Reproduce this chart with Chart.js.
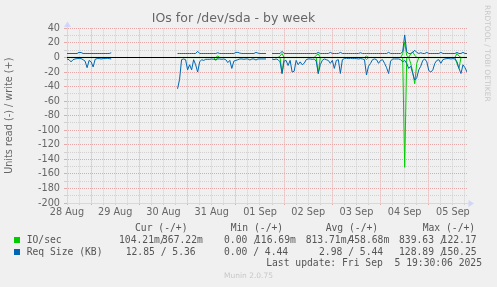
<!DOCTYPE html>
<html>
<head>
<meta charset="utf-8">
<script src="https://cdn.jsdelivr.net/npm/chart.js@4/dist/chart.umd.min.js"></script>
<style>
html,body{margin:0;padding:0;background:#F0F0F0;}
#wrap{position:relative;width:497px;height:287px;overflow:hidden;background:#F0F0F0;}
#c{position:absolute;left:0;top:0;}
.t{position:absolute;font-family:"DejaVu Sans Mono",monospace;font-size:9.7px;line-height:12px;color:#555;white-space:pre;}
.sq{position:absolute;width:6px;height:6px;}
#rrd{position:absolute;left:483px;top:5px;writing-mode:vertical-rl;font-family:"DejaVu Sans",sans-serif;font-size:7.5px;color:#C8C8C8;white-space:nowrap;}
#munin{position:absolute;left:0;width:497px;top:270px;text-align:center;font-family:"DejaVu Sans",sans-serif;font-size:7.5px;line-height:12px;color:#C8C8C8;}
</style>
</head>
<body>
<div id="wrap">
<canvas id="c" width="497" height="287"></canvas>
<div id="rrd">RRDTOOL / TOBI OETIKER</div>
<div class="t" style="left:135px;top:221.7px">Cur (-/+)</div>
<div class="t" style="left:230.7px;top:221.7px">Min (-/+)</div>
<div class="t" style="left:325.7px;top:221.7px">Avg (-/+)</div>
<div class="t" style="left:422.7px;top:221.7px">Max (-/+)</div>
<div class="sq" style="left:14px;top:237.3px;background:#00CC00"></div>
<div class="t" style="left:26.7px;top:234px">IO/sec</div>
<div class="t" style="left:119px;top:234px">104.21m/</div>
<div class="t" style="left:162px;top:234px">367.22m</div>
<div class="t" style="left:224px;top:234px">0.00 /</div>
<div class="t" style="left:255px;top:234px">116.69m</div>
<div class="t" style="left:305.7px;top:234px">813.71m/</div>
<div class="t" style="left:348.4px;top:234px">458.68m</div>
<div class="t" style="left:399px;top:234px">839.63 /</div>
<div class="t" style="left:441.6px;top:234px">122.17</div>
<div class="sq" style="left:14px;top:249.3px;background:#0066B3"></div>
<div class="t" style="left:26.7px;top:245.7px">Req Size (KB)</div>
<div class="t" style="left:125.7px;top:245.7px">12.85 / 5.36</div>
<div class="t" style="left:224px;top:245.7px">0.00 / 4.44</div>
<div class="t" style="left:319px;top:245.7px">2.98 / 5.44</div>
<div class="t" style="left:399px;top:245.7px">128.89 /</div>
<div class="t" style="left:441.6px;top:245.7px">150.25</div>
<div class="t" style="right:15px;top:257.3px">Last update: Fri Sep  5 19:30:06 2025</div>
<div id="munin">Munin 2.0.75</div>
</div>
<script>
// ---- time axis: hours after 28 Aug 00:00; one sample per hour starting 28 Aug 12:00
const X_START_HOUR = 12;
const SAMPLE_STEP_H = 1;
const X_MIN = 12, X_MAX = 211;
const dayLabels = ['28 Aug','29 Aug','30 Aug','31 Aug','01 Sep','02 Sep','03 Sep','04 Sep','05 Sep']; // at noon
const Y_MIN = -200, Y_MAX = 40;
const yLabelStep = 20;

// ---- IO/sec, read (plotted negative)
const ioRead = [
 -0.1,-0.1,-0.1,-0.1,-0.1,-0.1,-0.1,-0.1,-0.1,-0.1,
 -0.1,-0.1,-0.1,-0.1,-0.1,-0.1,-0.1,-0.1,-0.1,-0.1,
 -0.1,-0.1,-0.1,null,null,null,null,null,null,null,
 null,null,null,null,null,null,null,null,null,null,
 null,null,null,null,null,null,null,null,null,null,
 null,null,null,null,null,-0.1,-0.1,-0.1,-0.1,-0.1,
 -0.1,-0.1,-0.1,-0.1,-0.1,-0.1,-0.1,-0.1,-0.1,-0.1,
 -0.1,-0.1,-0.1,-0.1,-4,-0.1,-0.1,-0.1,-0.1,-0.1,
 -0.1,-0.1,-0.1,-0.1,-0.1,-0.1,-0.1,-0.1,-0.1,-0.1,
 -0.1,-0.1,-0.1,-0.1,-0.1,-0.1,-0.1,-0.1,-0.1,-0.1,
 null,null,-0.1,-0.1,-0.1,-0.1,-0.1,-22,-0.1,-0.1,
 -0.1,-0.1,-0.1,-0.1,-0.1,-0.1,-0.1,-0.1,-0.1,-0.1,
 -0.1,-0.1,-0.1,-0.1,-0.1,-22,-0.1,-0.1,-0.1,-0.1,
 -0.1,-0.1,-0.1,-0.1,-0.1,-0.1,-0.1,-0.1,-0.1,-0.1,
 -0.1,-0.1,-0.1,-0.1,-0.1,-0.1,-0.1,-0.1,-0.1,-3,
 -0.1,-0.1,-0.1,-0.1,-0.1,-0.1,-0.1,-0.1,-0.1,-0.1,
 -0.1,-0.1,-0.1,-0.1,-0.1,-0.1,-0.1,-0.1,-151,-0.1,
 -0.1,-8,-20,-36,-8,-0.1,-0.1,-0.1,-0.1,-0.1,
 -0.1,-0.1,-0.1,-0.1,-0.1,-0.1,-0.1,-0.1,-0.1,-0.1,
 -0.1,-0.1,-0.1,-0.1,-8,-15,-0.1,-0.1,-0.1,-0.1
];
// ---- IO/sec, write (plotted positive)
const ioWrite = [
 0.1,0.1,0.1,0.1,0.1,0.1,0.1,0.1,0.1,0.1,
 0.1,0.1,0.1,0.1,0.1,0.1,0.1,0.1,0.1,0.1,
 0.1,0.1,0.1,null,null,null,null,null,null,null,
 null,null,null,null,null,null,null,null,null,null,
 null,null,null,null,null,null,null,null,null,null,
 null,null,null,null,null,0.1,0.1,0.1,0.1,0.1,
 0.1,0.1,0.1,0.1,0.1,0.1,0.1,0.1,0.1,0.1,
 0.1,0.1,0.1,0.1,0.1,2,0.1,0.1,0.1,0.1,
 0.1,0.1,0.1,0.1,0.1,0.1,0.1,0.1,0.1,0.1,
 0.1,0.1,0.1,0.1,0.1,0.1,0.1,0.1,0.1,0.1,
 null,null,0.1,0.1,0.1,0.1,2,5.5,0.1,0.1,
 0.1,0.1,0.1,0.1,0.1,0.1,0.1,0.1,0.1,0.1,
 0.1,0.1,0.1,0.1,3,5,0.1,0.1,0.1,0.1,
 0.1,0.1,0.1,0.1,0.1,0.1,0.1,0.1,0.1,0.1,
 0.1,0.1,0.1,0.1,0.1,0.1,0.1,0.1,0.1,2,
 0.1,0.1,0.1,0.1,0.1,0.1,0.1,0.1,0.1,0.1,
 0.1,0.1,0.1,0.1,0.1,0.1,0.1,5,21,3,
 0.1,5,7.7,3,0.1,0.1,0.1,0.1,0.1,0.1,
 0.1,0.1,0.1,0.1,0.1,0.1,0.1,0.1,0.1,0.1,
 0.1,0.1,0.1,0.1,5.5,2,0.1,0.1,0.1,0.1
];
// ---- Req Size (KB), read (plotted negative)
const reqRead = [
 -2,-3,-6,-3,-2,-1.5,-1.5,-1.5,-3,-5,
 -14,-4,-6,-13,-2.5,-1.5,-1.5,-2,-1.5,-1.5,
 -1,-1.5,-2,null,null,null,null,null,null,null,
 null,null,null,null,null,null,null,null,null,null,
 null,null,null,null,null,null,null,null,null,null,
 null,null,null,null,null,-43,-30,-3,-2,-3,
 -17,-10,-17,-3,-10,-20,-6,-3,-4,-2.5,
 -2.5,-2.5,-2,-2.5,-3,-2,-2,-2.5,-2,-3,
 -7,-4,-15,-5,-4,-3,-2,-2,-2.5,-2,
 -2,-3.5,-2,-2,-3.5,-2,-2,-2,-2,-2,
 null,null,-2,-3,-2,-3,-6,-22,-5,-4,
 -11,-4,-20,-19,-4,-10,-6,-10,-8,-3,
 -2,-2,-2.5,-2,-5,-22,-10,-4,-2,-3,
 -4,-8,-4,-15,-4,-3,-22,-3,-1.5,-1,
 -1.5,-1,-1.5,-1.5,-1.5,-2,-1.5,-2,-3,-24,
 -12,-8,-3,-2,-3,-8,-4,-3,-8,-14,
 -22,-5,-2,-2,-2,-2,-3,-6,-4,-8,
 -15,-12,-22,-31,-28,-17,-12,-4,-2,-6,
 -18,-20,-17,-8,-4,-3,-8,-3,-2,-1.5,
 -1.5,-2,-1.5,-2,-6,-15,-22,-10,-14,-20
];
// ---- Req Size (KB), write (plotted positive)
const reqWrite = [
 5.5,5.5,5.5,5.5,5.5,5.5,7,6.8,5.5,5.5,
 5.5,5.5,5.5,5.5,5.5,5.5,5.5,5.5,5.5,5.5,
 5.5,5.5,6.5,null,null,null,null,null,null,null,
 null,null,null,null,null,null,null,null,null,null,
 null,null,null,null,null,null,null,null,null,null,
 null,null,null,null,null,5.5,5.5,5.5,5.5,5.5,
 5.5,5.5,5.5,5.5,5.5,8.5,5.5,5.5,5.5,5.5,
 5.5,5.5,5.5,5.5,5.5,6.5,5.5,5.5,5.5,5.5,
 5.5,5.5,5.5,5.5,7,7,6,5.5,5.5,5.5,
 5.5,5.5,5.5,5.5,7,6,5.5,5.5,5.5,5.5,
 null,null,5.5,5.5,5.5,5.5,5.5,8.5,5.5,5.5,
 5.5,5.5,5.5,5.5,5.5,5.5,5.5,5.5,5.5,5.5,
 5.5,5.5,5.5,5.5,5.5,7,5.5,5.5,5.5,5.5,
 5.5,7,5.5,5.5,5.5,5.5,7,5.5,5.5,5.5,
 5.5,5.5,5.5,5.5,5.5,5.5,6.5,5.5,5.5,5.5,
 5.5,5.5,5.5,5.5,5.5,5.5,5.5,5.5,5.5,5.5,
 7,5.5,5.5,5.5,5.5,5.5,5.5,8,31,8,
 5.5,5.5,7,10,7,5.5,6.5,5.5,5.5,7,
 5.5,5.5,5.5,5.5,5.5,5.5,7,5.5,5.5,5.5,
 5.5,5.5,5.5,5.5,7,5.5,5.5,7,5.5,5.5
];

// grid positions: every 6 h on x, every 10 units on y
const xGridHours = []; for (let h = X_MIN; h <= X_MAX; h += 6) xGridHours.push(h);
const yGridValues = []; for (let v = Y_MIN; v <= Y_MAX; v += 10) yGridValues.push(v);

const GREEN = '#00CC00', BLUE = '#0066B3';
const MAJOR = '#E4A8A8';
const MINOR = '#D0D0D0';
const AXIS = '#CFD6F8';
const FONT_COL = '#666666';

function toPoints(arr){ return arr.map((v,i)=>({x: X_START_HOUR + i*SAMPLE_STEP_H, y: v})); }

const axisArrows = {
  id: 'axisArrows',
  afterDraw(chart){
    const {ctx, chartArea:a} = chart;
    ctx.save();
    ctx.fillStyle = AXIS; ctx.strokeStyle = AXIS; ctx.lineWidth = 1;
    const lx = Math.round(a.left) + 0.5, by = Math.round(a.bottom) + 0.5;
    ctx.beginPath(); ctx.moveTo(lx, a.top); ctx.lineTo(lx, a.top - 2); ctx.stroke();
    ctx.beginPath(); ctx.moveTo(lx - 3.5, a.top - 1.5); ctx.lineTo(lx + 3.5, a.top - 1.5); ctx.lineTo(lx, a.top - 7); ctx.closePath(); ctx.fill();
    ctx.beginPath(); ctx.moveTo(a.right, by); ctx.lineTo(a.right + 2, by); ctx.stroke();
    ctx.beginPath(); ctx.moveTo(a.right + 1.5, by - 3.5); ctx.lineTo(a.right + 1.5, by + 3.5); ctx.lineTo(a.right + 7, by); ctx.closePath(); ctx.fill();
    ctx.restore();
  }
};

Chart.defaults.font.family = '"DejaVu Sans", sans-serif';
Chart.defaults.color = FONT_COL;

const LW = 1;
new Chart(document.getElementById('c'), {
  type: 'line',
  data: {
    datasets: [
      { label: 'zero', data: [{x: X_MIN, y: 0}, {x: X_MAX, y: 0}], borderColor: '#000000', borderWidth: 1, pointRadius: 0, order: 0 },
      { label: 'Req Size (KB) write', data: toPoints(reqWrite), borderColor: BLUE, borderWidth: LW, pointRadius: 0, tension: 0, spanGaps: false, order: 1 },
      { label: 'Req Size (KB) read', data: toPoints(reqRead), borderColor: BLUE, borderWidth: LW, pointRadius: 0, tension: 0, spanGaps: false, order: 2 },
      { label: 'IO/sec write', data: toPoints(ioWrite), borderColor: GREEN, borderWidth: LW, pointRadius: 0, tension: 0, spanGaps: false, order: 3 },
      { label: 'IO/sec read', data: toPoints(ioRead), borderColor: GREEN, borderWidth: LW, pointRadius: 0, tension: 0, spanGaps: false, order: 4 }
    ]
  },
  options: {
    responsive: false,
    animation: false,
    devicePixelRatio: 1,
    layout: { padding: { left: 0, right: 30, top: 0, bottom: 0 } },
    plugins: {
      legend: { display: false },
      tooltip: { enabled: false },
      title: { display: true, text: 'IOs for /dev/sda - by week', color: FONT_COL,
               font: { size: 12.5, weight: 'normal' }, padding: { top: 11.5, bottom: 1.9 } }
    },
    scales: {
      x: {
        type: 'linear', min: X_MIN, max: X_MAX,
        afterBuildTicks: s => { s.ticks = xGridHours.map(v => ({value: v})); },
        afterFit: s => { s.height = 84; },
        ticks: { autoSkip: false, maxRotation: 0, minRotation: 0, padding: 2, color: FONT_COL, font: { size: 9.7 },
                 callback: v => ((v - 12) % 24 === 0 ? dayLabels[(v - 12) / 24] : '') },
        grid: { color: c => (c.tick && c.tick.value % 24 === 0) ? MAJOR : MINOR, lineWidth: 1, drawTicks: true, tickLength: 2 },
        border: { display: true, color: AXIS, width: 1, dash: [1, 1] }
      },
      y: {
        type: 'linear', min: Y_MIN, max: Y_MAX,
        afterBuildTicks: s => { s.ticks = yGridValues.map(v => ({value: v})); },
        afterFit: s => { s.width = 67; },
        ticks: { autoSkip: false, padding: 4, color: FONT_COL, font: { size: 9.7 },
                 callback: v => (v % yLabelStep === 0 ? String(v) : '') },
        grid: { color: c => (c.tick && c.tick.value % yLabelStep === 0) ? MAJOR : MINOR, lineWidth: 1, drawTicks: true, tickLength: 3 },
        border: { display: true, color: AXIS, width: 1, dash: [1, 1] },
        title: { display: true, text: 'Units read (-) / write (+)', color: FONT_COL, font: { size: 9.7 }, padding: { top: 4, bottom: 0 } }
      }
    }
  },
  plugins: [axisArrows]
});
</script>
</body>
</html>
